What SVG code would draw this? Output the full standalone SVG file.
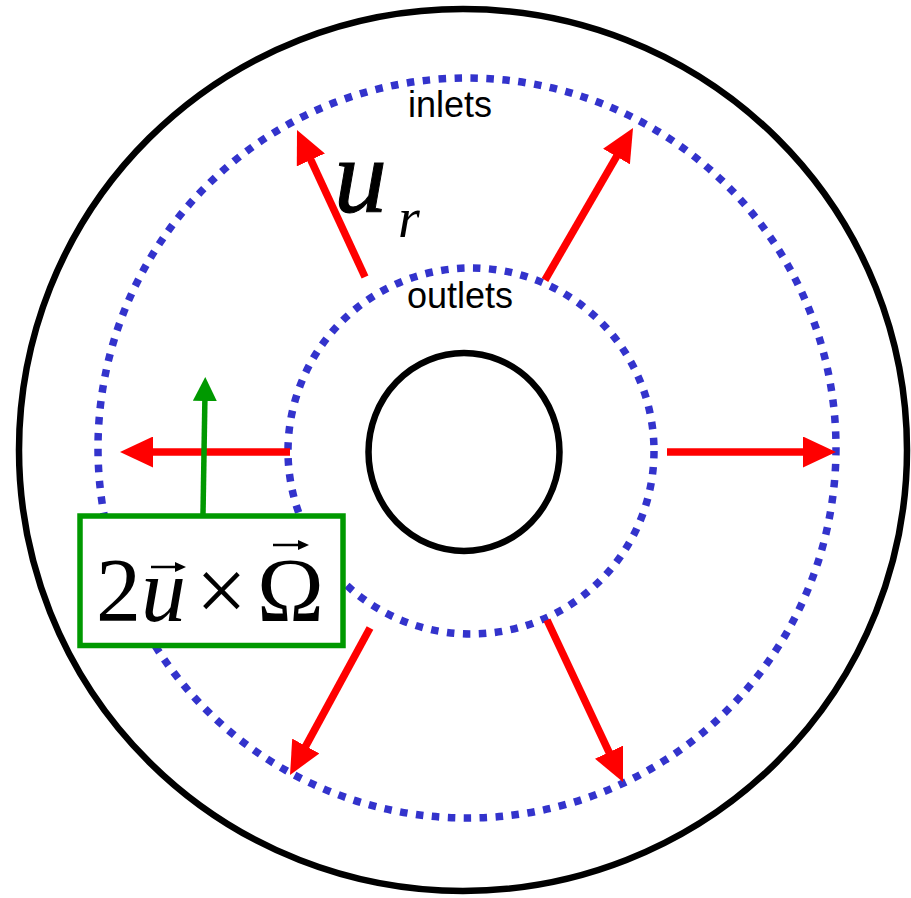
<svg xmlns="http://www.w3.org/2000/svg" width="911" height="898" viewBox="0 0 911 898">
<style>
.blk{fill:none;stroke:#000;stroke-width:6.5}
.dot{fill:none;stroke:#3333CC;stroke-width:7.5;stroke-dasharray:7.5 8.5}
.red{stroke:#FF0000;stroke-width:7.5;fill:none;marker-end:url(#rh)}
.lbl{font-family:"Liberation Sans",Arial,sans-serif;font-size:36px;fill:#000}
.math{font-family:"Liberation Serif","Times New Roman",serif;fill:#000}
</style>
<defs>
<marker id="rh" markerUnits="userSpaceOnUse" viewBox="0 0 33 31" refX="13" refY="15.5" markerWidth="33" markerHeight="31" orient="auto">
<path d="M0,0 L33,15.5 L0,31 z" fill="#FF0000"/>
</marker>
<marker id="gh" markerUnits="userSpaceOnUse" viewBox="0 0 24 24" refX="8" refY="12" markerWidth="24" markerHeight="24" orient="auto">
<path d="M0,0 L24,12 L0,24 z" fill="#009900"/>
</marker>
</defs>
<rect width="911" height="898" fill="#fff"/>
<g id="outer-wall"><ellipse cx="463" cy="450" rx="444" ry="441" class="blk"/></g>
<g id="inner-wall"><ellipse cx="464" cy="452" rx="95.5" ry="99" class="blk"/></g>
<g id="inlets"><ellipse cx="467" cy="448" rx="369" ry="370" class="dot"/>
<text class="lbl" x="450" y="117" text-anchor="middle">inlets</text></g>
<g id="outlets"><circle cx="471" cy="451" r="183" class="dot"/>
<text class="lbl" x="460" y="308" text-anchor="middle">outlets</text></g>
<g id="connectors">
<line x1="365" y1="277" x2="305.4" y2="148.1" class="red"/>
<line x1="545" y1="280" x2="623" y2="145.3" class="red"/>
<line x1="290" y1="452" x2="140" y2="452" class="red"/>
<line x1="667" y1="452" x2="816" y2="452" class="red"/>
<line x1="370" y1="628" x2="299.6" y2="757.4" class="red"/>
<line x1="547" y1="620" x2="614.5" y2="763.9" class="red"/>
<line x1="203" y1="514" x2="205" y2="393" stroke="#009900" stroke-width="5.5" marker-end="url(#gh)"/>
</g>
<g id="ur-label">
<text class="math" x="334" y="212" font-size="106" font-style="italic" stroke="#000" stroke-width="1">u</text>
<text class="math" x="398" y="237" font-size="56" font-style="italic">r</text>
</g>
<g id="coriolis-box">
<rect x="80" y="516" width="263" height="129.5" fill="#fff" stroke="#009900" stroke-width="5.5"/>
<text class="math" y="621" font-size="90"><tspan x="96">2</tspan><tspan x="141" font-style="italic">u</tspan><tspan x="196">×</tspan><tspan x="257">Ω</tspan></text>
<path d="M151,567 H180" stroke="#000" stroke-width="2.5"/>
<path d="M186,567 L175,562 L175,572 z" fill="#000"/>
<path d="M273,545 H303" stroke="#000" stroke-width="2.5"/>
<path d="M309,545 L298,540 L298,550 z" fill="#000"/>
</g>
</svg>
